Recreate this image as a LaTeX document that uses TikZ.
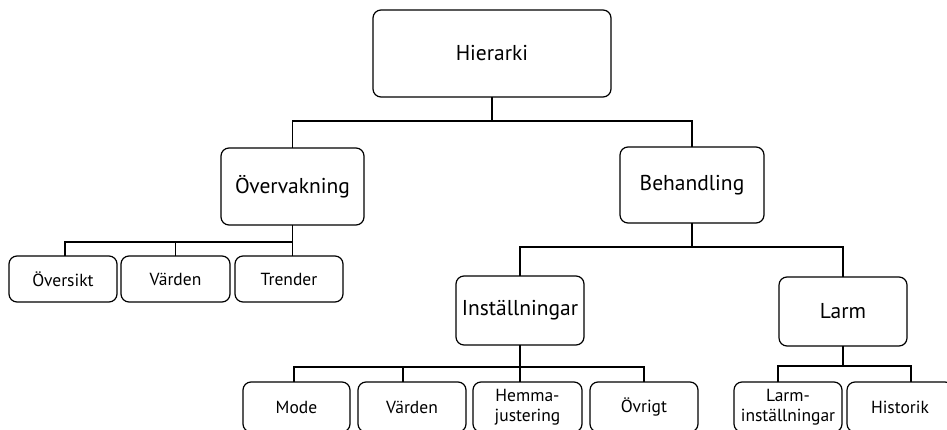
\documentclass[tikz,border=0pt]{standalone}
\usepackage{fontspec}
\setmainfont{PT Sans}

\begin{document}
\begin{tikzpicture}[x=1pt,y=-1pt,
        box/.style={draw,rounded corners=8pt,line width=1.2pt,align=center,
                    inner sep=0pt,outer sep=0pt},
        topbox/.style={box,font=\fontsize{21.5}{25}\selectfont},
        subbox/.style={box,font=\fontsize{17.5}{20}\selectfont},
        link/.style={line width=1.8pt}
    ]
    \clip (0,0) rectangle (947,430);

    % levels
    \node[topbox,minimum width=238pt,minimum height=87pt] (hier) at (492,53.5) {Hierarki};
    \node[topbox,minimum width=143pt,minimum height=77pt] (overv) at (292.5,186.5) {Övervakning};
    \node[topbox,minimum width=144pt,minimum height=76pt] (behand) at (692,185) {Behandling};
    \node[topbox,minimum width=128pt,minimum height=69pt] (instal) at (520,310.5) {Inställningar};
    \node[topbox,minimum width=128pt,minimum height=69pt] (larm) at (843,311.5) {Larm};

    % leaves
    \node[subbox,minimum width=108pt,minimum height=46pt] (oversikt) at (63,279) {Översikt};
    \node[subbox,minimum width=109pt,minimum height=46pt] (vardenA) at (175.5,279) {Värden};
    \node[subbox,minimum width=108pt,minimum height=46pt] (trender) at (289,279) {Trender};
    \node[subbox,minimum width=107pt,minimum height=50pt] (mode) at (296.5,407) {Mode};
    \node[subbox,minimum width=108pt,minimum height=50pt] (vardenB) at (412,407) {Värden};
    \node[subbox,minimum width=109pt,minimum height=50pt] (hemma) at (527.5,407) {Hemma-\\justering};
    \node[subbox,minimum width=108pt,minimum height=50pt] (ovrigt) at (644,407) {Övrigt};
    \node[subbox,minimum width=108pt,minimum height=50pt] (larminst) at (788,407) {Larm-\\inställningar};
    \node[subbox,minimum width=106pt,minimum height=50pt] (historik) at (900,407) {Historik};

    % connectors
    \draw[link] (hier.south) -- ++(0,24) coordinate (hbus);
    \draw[link] (overv.north) |- (hbus) -| (behand.north);

    \draw[link] (overv.south) -- ++(0,17) coordinate (obus);
    \draw[link] ([xshift=2pt]oversikt.north) |- (obus);
    \draw[link] (vardenA.north) |- (obus);
    \draw[link] (obus) -- (obus |- trender.north);

    \draw[link] (behand.south) -- ++(0,24) coordinate (bbus);
    \draw[link] (instal.north) |- (bbus) -| (larm.north);

    \draw[link] (instal.south) -- (instal.south |- hemma.north);
    \draw[link] ([yshift=-22pt]instal.south) coordinate (ibus)
        -| ([xshift=-2.5pt]mode.north);
    \draw[link] (ibus) -| ([xshift=-9pt]vardenB.north);
    \draw[link] (ibus) -| (ovrigt.north);

    \draw[link] (larm.south) -- ++(0,20) coordinate (lbus);
    \draw[link] ([xshift=-10pt]larminst.north) |- (lbus)
        -| ([xshift=11pt]historik.north);
\end{tikzpicture}
\end{document}
